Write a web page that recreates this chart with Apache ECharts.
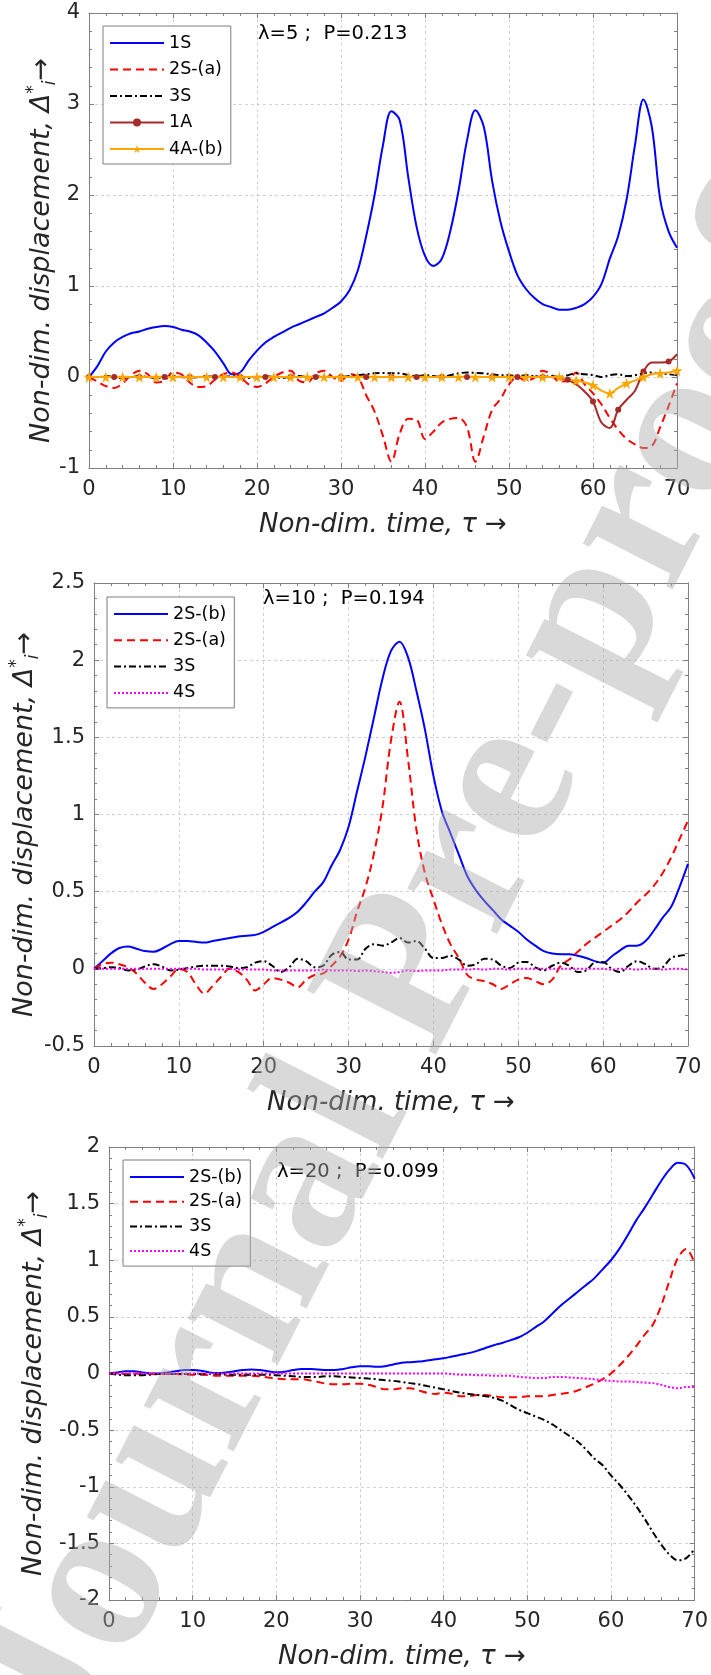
<!DOCTYPE html>
<html><head><meta charset="utf-8">
<script src="https://cdn.jsdelivr.net/npm/echarts@6/dist/echarts.min.js"></script>
<style>html,body{margin:0;padding:0;background:#fff}#c{width:711px;height:1675px}</style>
</head><body><div id="c"></div>
<script>
// ---------- data ----------
const tau = [0,1,2,3,4,5,6,7,8,9,10,11,12,13,14,15,16,17,18,19,20,21,22,23,24,25,26,27,28,29,30,31,32,33,34,35,36,37,38,39,40,41,42,43,44,45,46,47,48,49,50,51,52,53,54,55,56,57,58,59,60,61,62,63,64,65,66,67,68,69,70];
const xTickLabels = ['0','10','20','30','40','50','60','70'];

// Panel 1 : lambda = 5, P = 0.213
const p1_1S = [0,0.12,0.28,0.38,0.44,0.48,0.5,0.53,0.55,0.56,
  0.55,0.52,0.5,0.46,0.38,0.28,0.15,0.03,0.05,0.18,
  0.29,0.38,0.44,0.49,0.54,0.58,0.62,0.66,0.7,0.76,
  0.83,0.95,1.17,1.55,2.0,2.55,2.92,2.82,2.2,1.65,
  1.33,1.22,1.3,1.6,2.05,2.6,2.93,2.75,2.15,1.7,
  1.38,1.12,0.97,0.87,0.8,0.77,0.74,0.74,0.76,0.8,
  0.88,1.02,1.3,1.55,1.95,2.55,3.05,2.75,1.95,1.6,
  1.42];
const p1_2Sa = [0,-0.05,-0.1,-0.12,-0.07,0.02,0.07,0.03,-0.06,-0.04,
  0.05,0.03,-0.06,-0.11,-0.1,-0.03,0.03,0.05,0,-0.08,
  -0.11,-0.07,0,0.05,0.07,-0.04,-0.06,0.04,0.07,0,
  -0.04,0.03,0,-0.2,-0.38,-0.65,-0.93,-0.62,-0.46,-0.47,
  -0.68,-0.6,-0.5,-0.46,-0.45,-0.55,-0.93,-0.65,-0.36,-0.24,
  -0.08,0,-0.04,-0.01,0.07,0.03,-0.05,-0.04,0.05,-0.08,
  -0.18,-0.3,-0.45,-0.58,-0.68,-0.74,-0.78,-0.76,-0.55,-0.32,
  -0.07];
const p1_3S = [0,0,0.01,0,-0.01,0,0.01,0,-0.01,0,
  0.01,0,-0.01,0,0.01,0,0,0.01,0,-0.01,
  0,0.01,0,-0.01,0,0.01,0,0,0.01,0,
  0,0.01,0.02,0.03,0.04,0.045,0.04,0.04,0.02,0.01,
  0.02,0.01,0,0.02,0.04,0.05,0.045,0.04,0.03,0.02,
  0.02,0.01,0.02,0.01,0,0.01,0,0.02,0.04,0.03,
  0.02,0,0.02,0.03,0.01,0.02,0.04,0.05,0.04,0.03,
  0.02];
const p1_1A = [0,0,0,0,0,0,0,0,0,0,
  0,0,0,0,0,0,0,0,0,0,
  0,0,0,0,0,0,0,0,0,0,
  0,0,0,0,0,0,0,0,0,0,
  0,0,0,0,0,0,0,0,0,0,
  0,0,0,0,0,0,-0.01,-0.03,-0.08,-0.16,
  -0.27,-0.5,-0.56,-0.36,-0.25,-0.15,0.06,0.16,0.16,0.17,
  0.25];
const p1_4Ab = [0,0,0,0,0,0,0,0,0,0,
  0,0,0,0,0,0,0,0,0,0,
  0,0,0,0,0,0,0,0,0,0,
  0,0,0,0,0,0,0,0,0,0,
  0,0,0,0,0,0,0,0,0,0,
  0,0,0,0,0,0,0,-0.03,-0.04,-0.06,
  -0.09,-0.15,-0.18,-0.12,-0.07,-0.04,0,0.03,0.04,0.05,
  0.07];

// Panel 2 : lambda = 10, P = 0.194
const p2_2Sb = [0,0.05,0.1,0.135,0.145,0.13,0.115,0.11,0.13,0.16,
  0.18,0.18,0.175,0.17,0.18,0.19,0.2,0.21,0.215,0.22,
  0.24,0.27,0.3,0.33,0.37,0.43,0.5,0.56,0.67,0.77,
  0.92,1.15,1.38,1.63,1.88,2.06,2.12,2.02,1.8,1.55,
  1.25,1.02,0.88,0.74,0.6,0.51,0.44,0.38,0.32,0.28,
  0.24,0.19,0.15,0.115,0.1,0.095,0.095,0.085,0.07,0.05,
  0.04,0.08,0.12,0.15,0.15,0.18,0.25,0.33,0.4,0.53,
  0.68];
const p2_2Sa = [0,0.03,0.04,0.03,0.01,-0.03,-0.09,-0.13,-0.1,-0.05,
  0,-0.02,-0.1,-0.16,-0.11,-0.05,0,-0.02,-0.07,-0.14,
  -0.1,-0.06,-0.07,-0.09,-0.12,-0.07,-0.04,-0.03,0.02,0.08,
  0.19,0.37,0.53,0.75,1.05,1.48,1.73,1.36,0.9,0.62,
  0.45,0.29,0.16,0.07,-0.04,-0.07,-0.08,-0.1,-0.13,-0.1,
  -0.07,-0.06,-0.08,-0.1,-0.07,0.02,0.06,0.11,0.16,0.2,
  0.24,0.28,0.32,0.37,0.43,0.48,0.54,0.62,0.72,0.84,
  0.96];
const p2_3S = [0,0.005,0.01,0.005,-0.01,-0.005,0.015,0.03,0.015,-0.01,
  -0.005,0.005,0.015,0.02,0.02,0.02,0.015,0.005,0.01,0.04,
  0.05,0.02,-0.02,0.01,0.065,0.05,0.01,0.02,0.09,0.11,
  0.06,0.06,0.13,0.16,0.15,0.17,0.2,0.17,0.18,0.13,
  0.07,0.07,0.085,0.06,0.02,0.03,0.065,0.06,0.02,0.005,
  0.04,0.045,0.01,-0.01,0.02,0.04,0.02,-0.02,-0.01,0.04,
  0.045,0,-0.02,0.02,0.05,0.03,0,0.01,0.07,0.085,
  0.09];
const p2_4S = [0,0,0,0,0,0,0,0,0,0,
  0,0,0,-0.005,-0.005,-0.005,0,-0.005,-0.005,-0.005,
  -0.005,-0.01,-0.01,-0.01,-0.01,-0.01,-0.01,-0.005,-0.01,-0.01,
  -0.01,-0.015,-0.01,-0.015,-0.02,-0.025,-0.02,-0.01,-0.015,-0.01,
  -0.01,-0.01,-0.005,-0.005,-0.005,0,-0.005,0,0,-0.005,
  0,0,0,0,0,0,0,0,0,0,
  0,-0.005,0,0,-0.005,0,0,-0.005,0,0,
  -0.005];

// Panel 3 : lambda = 20, P = 0.099
const p3_2Sb = [0,0.01,0.02,0.02,0.01,0,0,0.01,0.02,0.03,
  0.03,0.025,0.01,0.005,0.01,0.02,0.03,0.035,0.03,0.02,
  0.01,0.015,0.03,0.04,0.04,0.035,0.03,0.03,0.04,0.055,
  0.065,0.065,0.06,0.065,0.08,0.095,0.1,0.105,0.115,0.125,
  0.135,0.15,0.165,0.18,0.2,0.225,0.25,0.27,0.295,0.32,
  0.36,0.41,0.46,0.53,0.6,0.66,0.72,0.78,0.84,0.92,
  1.0,1.1,1.22,1.35,1.46,1.58,1.7,1.8,1.86,1.84,
  1.72];
const p3_2Sa = [0,0,-0.005,0,-0.005,-0.005,0,-0.005,-0.005,-0.01,
  -0.01,-0.01,-0.015,-0.02,-0.02,-0.02,-0.02,-0.02,-0.025,-0.035,
  -0.045,-0.05,-0.05,-0.05,-0.06,-0.075,-0.09,-0.095,-0.095,-0.09,
  -0.09,-0.1,-0.12,-0.14,-0.14,-0.13,-0.13,-0.15,-0.17,-0.18,
  -0.17,-0.18,-0.2,-0.2,-0.19,-0.19,-0.2,-0.21,-0.21,-0.21,
  -0.2,-0.2,-0.2,-0.19,-0.18,-0.17,-0.15,-0.12,-0.09,-0.05,
  0,0.07,0.15,0.24,0.34,0.43,0.6,0.82,1.02,1.1,
  0.97];
const p3_3S = [0,-0.01,-0.015,-0.015,-0.015,-0.01,-0.005,-0.005,-0.005,-0.005,
  -0.005,-0.005,-0.005,-0.005,-0.01,-0.01,-0.01,-0.01,-0.01,-0.01,
  -0.015,-0.02,-0.025,-0.03,-0.03,-0.03,-0.025,-0.025,-0.03,-0.035,
  -0.04,-0.045,-0.05,-0.06,-0.065,-0.075,-0.085,-0.095,-0.11,-0.125,
  -0.14,-0.155,-0.17,-0.18,-0.19,-0.2,-0.215,-0.24,-0.28,-0.32,
  -0.35,-0.38,-0.41,-0.45,-0.5,-0.55,-0.6,-0.67,-0.75,-0.81,
  -0.9,-0.98,-1.07,-1.17,-1.28,-1.4,-1.51,-1.6,-1.65,-1.63,
  -1.55];
const p3_4S = [0,0,0,0,0,0,0,0,0,0,
  0,0,0,0,0,0,0,0,0,0,
  0,0,0,0,0,0,0,0,0,0,
  0,0,0,0,0,0,0,0,0,0,
  0,-0.005,-0.01,-0.01,-0.015,-0.015,-0.02,-0.02,-0.02,-0.03,
  -0.035,-0.04,-0.04,-0.03,-0.03,-0.035,-0.04,-0.045,-0.05,-0.06,
  -0.065,-0.07,-0.07,-0.075,-0.08,-0.085,-0.1,-0.12,-0.13,-0.12,
  -0.12];

const annotations = ['\u03bb=5 ;  P=0.213', '\u03bb=10 ;  P=0.194', '\u03bb=20 ;  P=0.099'];

// ---------- styling ----------
const FONT = '"DejaVu Sans", "Liberation Sans", sans-serif';
const AX = '#808080';
const LBL = '#262626';
const GRIDC = '#d0d0d0';
const STAR = 'path://M50,0 L61.2,34.5 L97.6,34.5 L68.2,55.9 L79.4,90.5 L50,69.1 L20.6,90.5 L31.8,55.9 L2.4,34.5 L38.8,34.5 Z';

const pts = v => v.map((y, i) => [tau[i], y]);

const grids = [
  {left: 89, right: 34, top: 13, height: 455},
  {left: 92, right: 23, top: 583, height: 463},
  {left: 109, right: 15, top: 1147, height: 453}
];
const yRanges = [
  {min: -1, max: 4, interval: 1, gap: 30},
  {min: -0.5, max: 2.5, interval: 0.5, gap: 52},
  {min: -2, max: 2, interval: 0.5, gap: 58}
];

const xAxis = [], yAxis = [];
grids.forEach((g, gi) => {
  const common = {
    type: 'value', gridIndex: gi,
    axisLine: {show: true, onZero: false, lineStyle: {color: AX, width: 1}},
    axisTick: {show: true, inside: true, length: 5, lineStyle: {color: AX, width: 1}},
    minorTick: {show: true, splitNumber: 5, length: 3, lineStyle: {color: AX, width: 1}}
  };
  xAxis.push(Object.assign({}, common, {
    min: 0, max: 70, interval: 10, position: 'bottom',
    name: 'Non-dim. time, \u03c4 \u2192', nameLocation: 'middle', nameGap: 44,
    nameTextStyle: {fontFamily: FONT, fontStyle: 'italic', fontSize: 26, color: LBL},
    axisLabel: {fontFamily: FONT, fontSize: 21, color: LBL, margin: 11,
      formatter: v => xTickLabels[Math.round(v / 10)]},
    splitLine: {show: true, lineStyle: {color: GRIDC, type: [3, 3], width: 1}}
  }));
  xAxis.push(Object.assign({}, common, {
    min: 0, max: 70, interval: 10, position: 'top',
    axisLabel: {show: false}, splitLine: {show: false}
  }));
  const yr = yRanges[gi];
  yAxis.push(Object.assign({}, common, {
    min: yr.min, max: yr.max, interval: yr.interval, position: 'left',
    name: 'Non-dim. displacement, {d|\u0394}{s|*}{b|i}{a|\u2192}',
    nameLocation: 'middle', nameGap: yr.gap, nameRotate: 90, nameMoveOverlap: false,
    nameTextStyle: {fontFamily: FONT, fontStyle: 'italic', fontSize: 27, color: LBL, lineHeight: 34,
      padding: [0, 20, 0, 0],
      rich: {
        d: {fontFamily: FONT, fontSize: 27, color: LBL, lineHeight: 34},
        s: {fontFamily: FONT, fontSize: 17, color: LBL, verticalAlign: 'top', lineHeight: 17},
        b: {fontFamily: FONT, fontSize: 17, color: LBL, verticalAlign: 'bottom', lineHeight: 17},
        a: {fontFamily: FONT, fontSize: 27, color: LBL, lineHeight: 34}
      }},
    axisLabel: {fontFamily: FONT, fontSize: 21, color: LBL, margin: 9},
    splitLine: {show: true, lineStyle: {color: GRIDC, type: [3, 3], width: 1}}
  }));
  yAxis.push(Object.assign({}, common, {
    min: yr.min, max: yr.max, interval: yr.interval, position: 'right',
    axisLabel: {show: false}, splitLine: {show: false}
  }));
});

const STY = {
  blue: {color: '#0000ff', lineStyle: {color: '#0000ff', width: 2, type: 'solid'}},
  red: {color: '#ff0000', lineStyle: {color: '#ff0000', width: 2, type: [8, 5]}},
  black: {color: '#000000', lineStyle: {color: '#000000', width: 2, type: [7, 3, 2, 3]}},
  mag: {color: '#ff00ff', lineStyle: {color: '#ff00ff', width: 2, type: [2, 2]}},
  brown: {color: '#a52a2a', lineStyle: {color: '#a52a2a', width: 2, type: 'solid'}},
  orange: {color: '#ffa500', lineStyle: {color: '#ffa500', width: 2, type: 'solid'}}
};

function line(name, gi, values, sty, extra) {
  return Object.assign({
    type: 'line', name: name, xAxisIndex: gi * 2, yAxisIndex: gi * 2,
    data: pts(values), smooth: 0.35, symbol: 'none', animation: false,
    color: sty.color, lineStyle: sty.lineStyle, itemStyle: {color: sty.color}, z: 3
  }, extra || {});
}

const series = [
  line('1S', 0, p1_1S, STY.blue),
  line('2S-(a)', 0, p1_2Sa, STY.red),
  line('3S', 0, p1_3S, STY.black),
  line('1A', 0, p1_1A, STY.brown, {symbol: 'circle', showSymbol: true, showAllSymbol: true,
    symbolSize: (v, p) => (p.dataIndex % 3 === 0 ? 6 : 0)}),
  line('4A-(b)', 0, p1_4Ab, STY.orange, {symbol: STAR, showSymbol: true, showAllSymbol: true,
    symbolSize: (v, p) => (p.dataIndex % 2 === 0 ? 11 : 0)}),
  line('2S-(b)', 1, p2_2Sb, STY.blue),
  line('2S-(a)', 1, p2_2Sa, STY.red),
  line('3S', 1, p2_3S, STY.black),
  line('4S', 1, p2_4S, STY.mag),
  line('2S-(b)', 2, p3_2Sb, STY.blue),
  line('2S-(a)', 2, p3_2Sa, STY.red),
  line('3S', 2, p3_3S, STY.black),
  line('4S', 2, p3_4S, STY.mag)
];

const noSym = {opacity: 0};
function legend(left, top, gap, names, symNames) {
  return {
    orient: 'vertical', left: left, top: top, itemWidth: 54, itemHeight: 10, itemGap: gap,
    padding: [7, 8, 5, 6], borderColor: '#7f7f7f', borderWidth: 1, backgroundColor: '#ffffff',
    selectedMode: false, z: 10,
    textStyle: {fontFamily: FONT, fontSize: 17.5, color: '#000', lineHeight: 20},
    data: names.map(n => (symNames.indexOf(n) >= 0 ? {name: n} : {name: n, itemStyle: noSym}))
  };
}

const annStyle = {fontFamily: FONT, fontSize: 19.5, fontWeight: 'normal', color: '#000'};
const option = {
  backgroundColor: '#ffffff',
  animation: false,
  grid: grids,
  xAxis: xAxis,
  yAxis: yAxis,
  legend: [
    legend(103, 26, 6.5, ['1S', '2S-(a)', '3S', '1A', '4A-(b)'], ['1A', '4A-(b)']),
    legend(107, 597, 6.3, ['2S-(b)', '2S-(a)', '3S', '4S'], []),
    legend(123, 1160, 4.7, ['2S-(b)', '2S-(a)', '3S', '4S'], [])
  ],
  title: [
    {text: annotations[0], left: 258, top: 24, padding: 0, textStyle: annStyle},
    {text: annotations[1], left: 263, top: 589, padding: 0, textStyle: annStyle},
    {text: annotations[2], left: 277, top: 1162, padding: 0, textStyle: annStyle}
  ],
  graphic: [{
    type: 'text', x: 410, y: 980, rotation: 63 * Math.PI / 180, z: 100, silent: true,
    style: {text: 'Journal Pre-proof', font: 'bold 220px "Liberation Serif", serif',
      fill: 'rgba(170,170,170,0.45)', align: 'center', verticalAlign: 'middle'}
  }],
  series: series
};

const chart = echarts.init(document.getElementById('c'), null, {renderer: 'canvas', width: 711, height: 1675});
chart.setOption(option);
</script>
</body></html>
